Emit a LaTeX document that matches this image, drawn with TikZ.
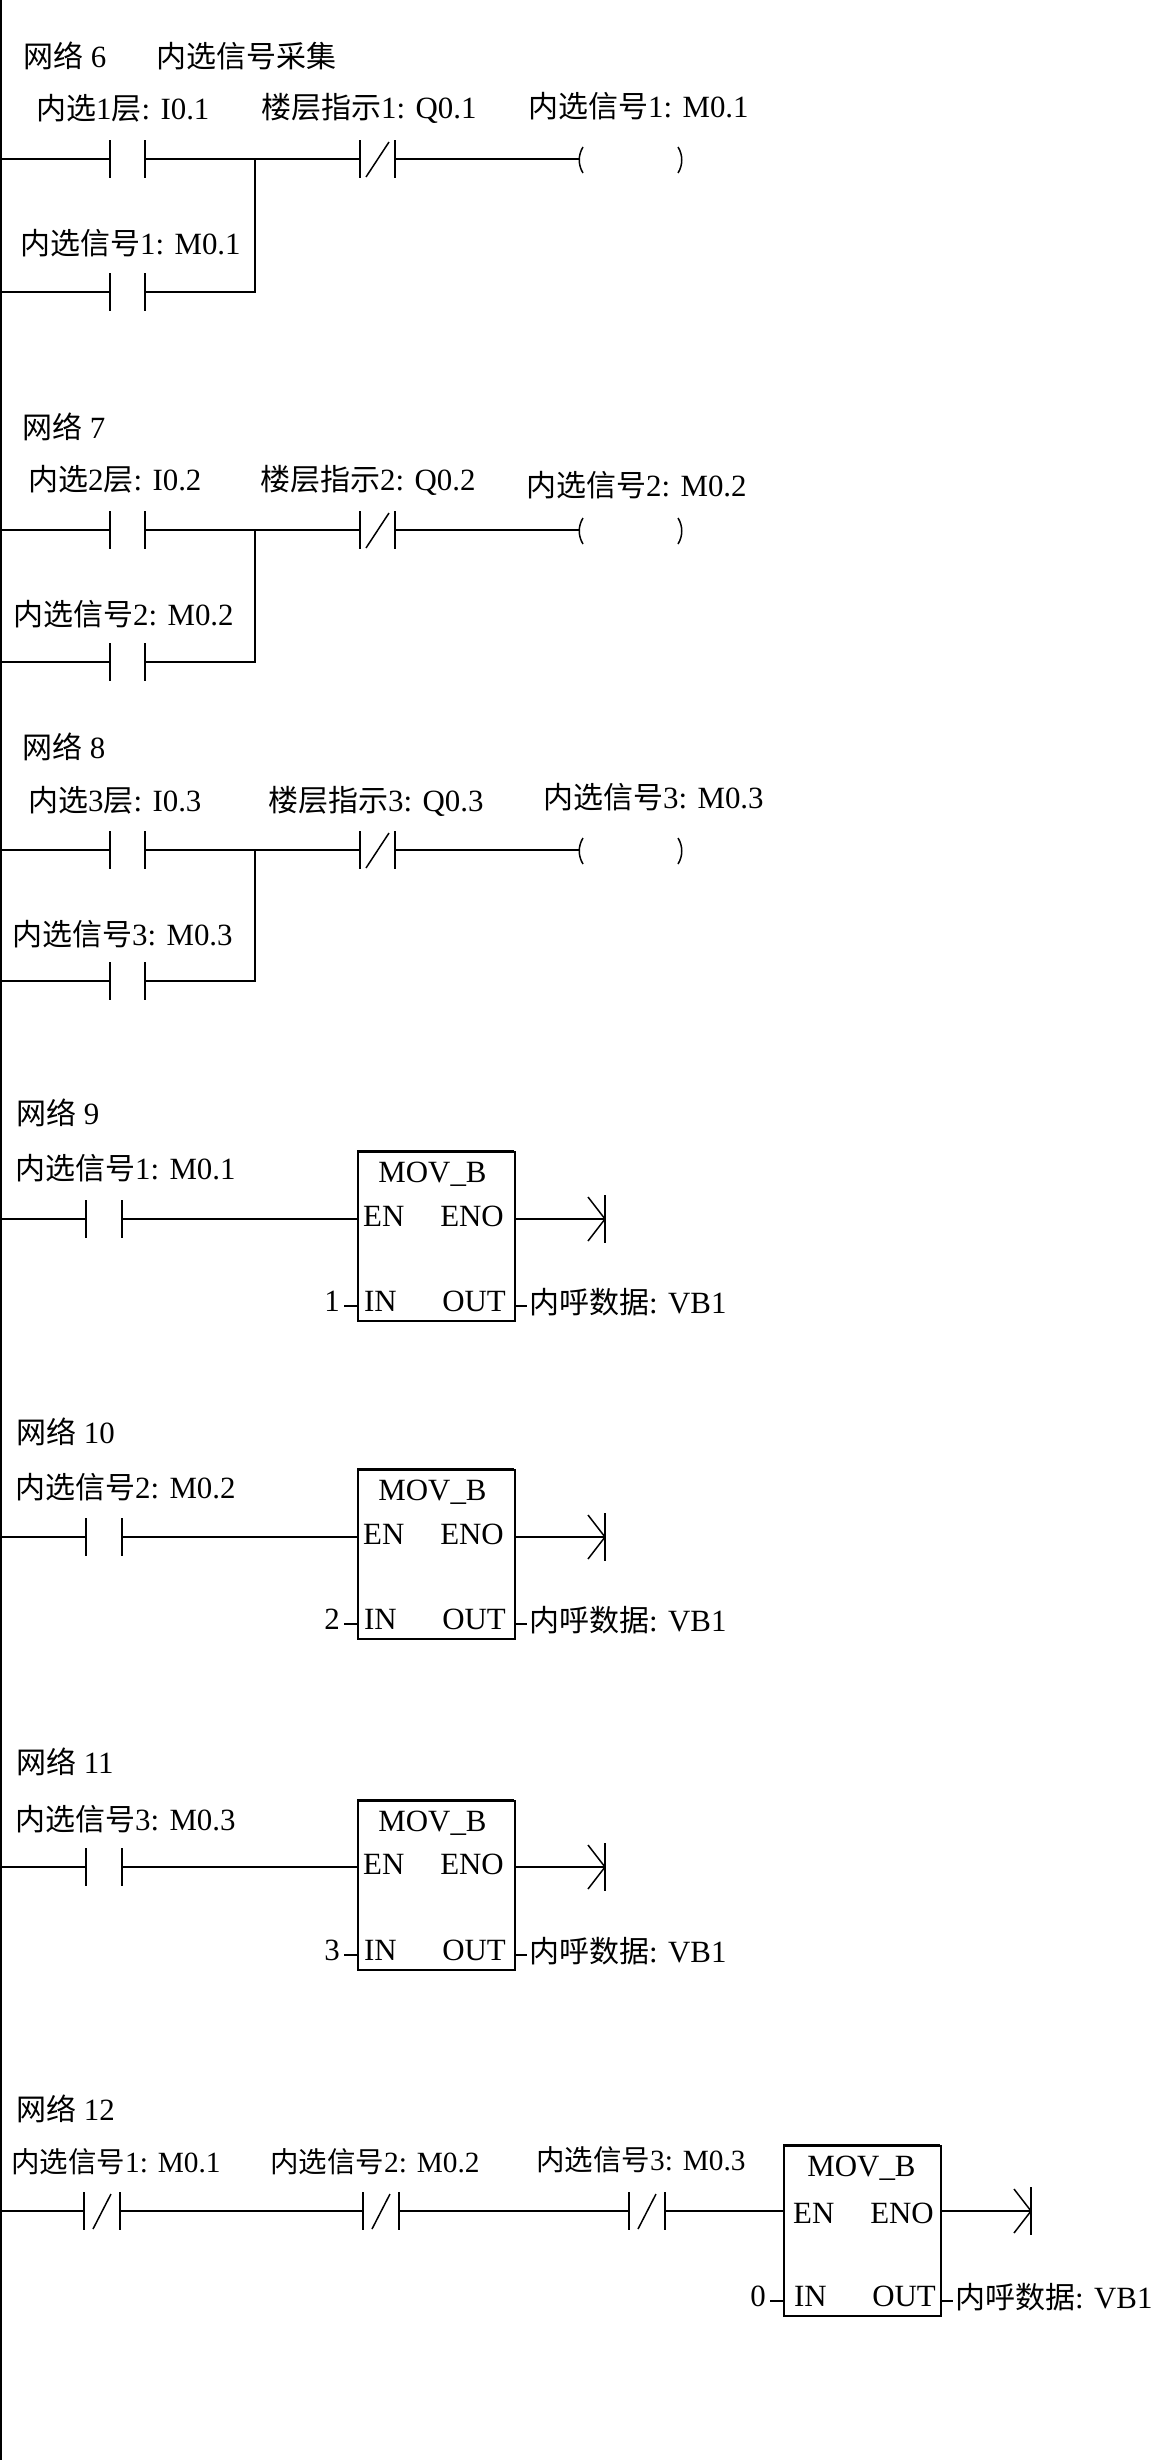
\documentclass[tikz,border=0pt]{standalone}
\usepackage{fontspec}
\setmainfont{Liberation Serif}[Scale=1.03]
\newfontfamily\cjk{Noto Sans CJK SC}
\newcommand{\zh}[1]{{\cjk #1}}
\tikzset{
  wire/.style={line width=2pt,black},
  plate/.style={line width=1.5pt,black},
  lab/.style={anchor=west,inner sep=0pt,text height=22pt,text depth=4pt,font=\fontsize{30}{32}\selectfont,black},
  labsm/.style={lab,font=\fontsize{28.5}{30}\selectfont},
  pin/.style={lab},
  pinr/.style={lab,anchor=east},
  pinc/.style={lab,anchor=center},
  fb/.style={draw=black,line width=2pt,inner sep=0pt,anchor=north west}
}
\newcommand{\slashin}{6}
\newcommand{\pinx}{0}
\newcommand{\piny}{0}
\newcommand{\titlex}{-3}
% normally open contact: name, left x, right x, y
\newcommand{\nocon}[4]{%
  \coordinate (#1-l) at (#2,#4);
  \coordinate (#1-r) at (#3,#4);
  \draw[plate] (#2,#4-19) -- (#2,#4+19);
  \draw[plate] (#3,#4-19) -- (#3,#4+19);
}
% normally closed contact
\newcommand{\nccon}[4]{%
  \nocon{#1}{#2}{#3}{#4}
  \draw[plate] (#2+\slashin,#4+18) -- (#3-\slashin,#4-17);
}
% coil: name, left x, right x, y
\newcommand{\coil}[4]{%
  \coordinate (#1-l) at (#2-3,#4);
  \draw[plate] (#2,#4-12) .. controls (#2-5,#4-4) and (#2-5,#4+6) .. (#2,#4+14);
  \draw[plate] (#3-3,#4-12) .. controls (#3+2,#4-4) and (#3+2,#4+6) .. (#3-3,#4+14);
}
% box: name, x1, x2, ytop, yrung, ybot, value
\newcommand{\movb}[7]{%
  \pgfmathsetmacro{\bw}{#3-#2}
  \pgfmathsetmacro{\bh}{#6-#4}
  \node[fb,minimum width=\bw pt,minimum height=\bh pt] (#1) at (#2,#4) {};
  \draw[line width=3pt] (#2,#4) -- (#3,#4);
  \coordinate (#1-en) at (#2,#5);
  \coordinate (#1-eno) at (#3,#5);
  \coordinate (#1-end) at (#3+91,#5);
  \coordinate (#1-vt) at (#2-13,#6-14);
  \coordinate (#1-vb) at (#2,#6-14);
  \coordinate (#1-ot) at (#3,#6-14);
  \coordinate (#1-oe) at (#3+13,#6-14);
  \node[pinc] (#1-title) at ({(#2+#3)/2+\titlex},#4+22) {MOV\_B};
  \node[pin] (#1-enl) at (#2+6+\pinx,#5-2+\piny) {EN};
  \node[pinr] (#1-enol) at (#3-10+\pinx,#5-2+\piny) {ENO};
  \node[pin] (#1-inl) at (#2+7+\pinx,#6-18) {IN};
  \node[pinr] (#1-outl) at (#3-8+\pinx,#6-18) {OUT};
  \node[pinc] (#1-val) at (#2-25,#6-18) {#7};
  \node[pin] (#1-vb1) at (#3+15,#6-16) {\zh{内呼数据}: VB1};
  \draw[wire] (#1-eno) -- (#1-end);
  \draw[plate] ($(#1-end)+(0,-24)$) -- ($(#1-end)+(0,24)$);
  \draw[plate] ($(#1-end)+(-17,-22)$) -- (#1-end) -- ($(#1-end)+(-17,22)$);
  \draw[plate] (#1-vt) -- (#1-vb);
  \draw[plate] (#1-ot) -- (#1-oe);
}
\usetikzlibrary{calc}
\begin{document}
\begin{tikzpicture}[x=1pt,y=-1pt]
\useasboundingbox (0,0) rectangle (1151,2460);
\fill[white] (0,0) rectangle (1151,2460);
\coordinate (top) at (1,0);
\coordinate (bot) at (1,2460);
\draw[wire] (top) -- (bot);

% Network 6
\node[lab] (t6) at (23,58.5) {\zh{网络} 6};
\node[lab] (t6b) at (156,58.5) {\zh{内选信号采集}};
\node[lab] (l61) at (36,110) {\zh{内选}1\zh{层}: I0.1};
\node[lab] (l62) at (261,109) {\zh{楼层指示}1: Q0.1};
\node[lab] (l63) at (528,108) {\zh{内选信号}1: M0.1};
\node[lab] (l64) at (20,245) {\zh{内选信号}1: M0.1};
\coordinate (r6) at (1,159); \coordinate (r6b) at (1,292); \coordinate (j6) at (255,159);
\nocon{c61}{110}{145}{159}
\nccon{c62}{360}{395}{159}
\coil{k6}{583}{681}{159}
\nocon{c63}{110}{145}{292}
\draw[wire] (r6) -- (c61-l) (c61-r) -- (c62-l) (c62-r) -- (k6-l);
\draw[wire] (r6b) -- (c63-l) (c63-r) -| (j6);

% Network 7
\node[lab] (t7) at (22,429) {\zh{网络} 7};
\node[lab] (l71) at (28,481) {\zh{内选}2\zh{层}: I0.2};
\node[lab] (l72) at (260,481) {\zh{楼层指示}2: Q0.2};
\node[lab] (l73) at (526,487) {\zh{内选信号}2: M0.2};
\node[lab] (l74) at (13,616) {\zh{内选信号}2: M0.2};
\coordinate (r7) at (1,530); \coordinate (r7b) at (1,662); \coordinate (j7) at (255,530);
\nocon{c71}{110}{145}{530}
\nccon{c72}{360}{395}{530}
\coil{k7}{583}{681}{530}
\nocon{c73}{110}{145}{662}
\draw[wire] (r7) -- (c71-l) (c71-r) -- (c72-l) (c72-r) -- (k7-l);
\draw[wire] (r7b) -- (c73-l) (c73-r) -| (j7);

% Network 8
\node[lab] (t8) at (22,749) {\zh{网络} 8};
\node[lab] (l81) at (28,802) {\zh{内选}3\zh{层}: I0.3};
\node[lab] (l82) at (268,802) {\zh{楼层指示}3: Q0.3};
\node[lab] (l83) at (543,799) {\zh{内选信号}3: M0.3};
\node[lab] (l84) at (12,936) {\zh{内选信号}3: M0.3};
\coordinate (r8) at (1,850); \coordinate (r8b) at (1,981); \coordinate (j8) at (255,850);
\nocon{c81}{110}{145}{850}
\nccon{c82}{360}{395}{850}
\coil{k8}{583}{681}{850}
\nocon{c83}{110}{145}{981}
\draw[wire] (r8) -- (c81-l) (c81-r) -- (c82-l) (c82-r) -- (k8-l);
\draw[wire] (r8b) -- (c83-l) (c83-r) -| (j8);

% Network 9
\node[lab] (t9) at (16,1115) {\zh{网络} 9};
\node[lab] (l91) at (15,1170) {\zh{内选信号}1: M0.1};
\coordinate (r9) at (1,1219);
\nocon{c91}{86}{122}{1219}
\movb{b9}{357}{514}{1151}{1219}{1320}{1}
\draw[wire] (r9) -- (c91-l) (c91-r) -- (b9-en);

% Network 10
\node[lab] (t10) at (16,1434) {\zh{网络} 10};
\node[lab] (l101) at (15,1489) {\zh{内选信号}2: M0.2};
\coordinate (r10) at (1,1537);
\nocon{c101}{86}{122}{1537}
\movb{b10}{357}{514}{1469}{1537}{1638}{2}
\draw[wire] (r10) -- (c101-l) (c101-r) -- (b10-en);

% Network 11
\node[lab] (t11) at (16,1764) {\zh{网络} 11};
\node[lab] (l111) at (15,1821) {\zh{内选信号}3: M0.3};
\coordinate (r11) at (1,1867);
\nocon{c111}{86}{122}{1867}
\movb{b11}{357}{514}{1800}{1867}{1969}{3}
\draw[wire] (r11) -- (c111-l) (c111-r) -- (b11-en);

% Network 12
\renewcommand{\slashin}{9}
\renewcommand{\pinx}{4}
\renewcommand{\piny}{5}
\renewcommand{\titlex}{0}
\node[lab] (t12) at (16,2111) {\zh{网络} 12};
\node[labsm] (l121) at (11,2163) {\zh{内选信号}1: M0.1};
\node[labsm] (l122) at (270,2163) {\zh{内选信号}2: M0.2};
\node[labsm] (l123) at (536,2161) {\zh{内选信号}3: M0.3};
\coordinate (r12) at (1,2211);
\nccon{c121}{84}{120}{2211}
\nccon{c122}{363}{399}{2211}
\nccon{c123}{629}{665}{2211}
\movb{b12}{783}{940}{2145}{2211}{2315}{0}
\draw[wire] (r12) -- (c121-l) (c121-r) -- (c122-l) (c122-r) -- (c123-l) (c123-r) -- (b12-en);
\end{tikzpicture}
\end{document}
